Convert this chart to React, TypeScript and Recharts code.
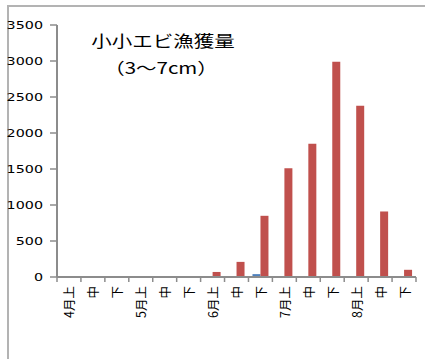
import { BarChart, Bar, XAxis, YAxis } from "recharts";

// ten-day periods, Apr - Aug
const periods = [
  "4月上", "4月中", "4月下",
  "5月上", "5月中", "5月下",
  "6月上", "6月中", "6月下",
  "7月上", "7月中", "7月下",
  "8月上", "8月中", "8月下",
];
const tickLabels = ["4月上", "中", "下", "5月上", "中", "下", "6月上", "中", "下", "7月上", "中", "下", "8月上", "中", "下"];
const blueCatch = [0, 0, 0, 0, 0, 0, 0, 0, 40, 0, 0, 0, 0, 0, 0];
const redCatch = [0, 0, 0, 0, 0, 0, 70, 210, 850, 1510, 1850, 2990, 2380, 910, 100];
const yTicks = [0, 500, 1000, 1500, 2000, 2500, 3000, 3500];

const data = periods.map((p, i) => ({ period: p, blue: blueCatch[i], red: redCatch[i] }));

const AXIS = "#8c8c8c";
const FONT = '"Noto Sans CJK JP", "DejaVu Sans", sans-serif';

const XTick = (props: any) => {
  const { x, y, payload } = props;
  const half = payload?.offset || 12;
  const i = periods.indexOf(payload.value);
  const ty = y + 9;
  return (
    <g>
      <line x1={x - half} y1={y} x2={x - half} y2={y + 5} stroke={AXIS} strokeWidth={1.5} />
      {i === periods.length - 1 && (
        <line x1={x + half} y1={y} x2={x + half} y2={y + 5} stroke={AXIS} strokeWidth={1.5} />
      )}
      <text
        x={x}
        y={ty}
        transform={`rotate(-90 ${x} ${ty})`}
        textAnchor="end"
        dominantBaseline="central"
        fontSize={12.5}
        fontFamily={FONT}
        fill="#000"
      >
        {tickLabels[i]}
      </text>
    </g>
  );
};

const YTick = (props: any) => {
  const { x, y, payload } = props;
  return (
    <g transform={`translate(${x},${y}) scale(1.3,1)`}>
      <text x={0} y={0} dy="0.36em" textAnchor="end" fontSize={11} fontFamily='"DejaVu Sans", sans-serif' fill="#000">
        {payload.value}
      </text>
    </g>
  );
};

export default function App() {
  return (
    <div style={{ position: "absolute", left: 0, top: 0, width: 425, height: 359, fontFamily: FONT, overflow: "hidden" }}>
      <div
        style={{
          position: "absolute",
          left: 7,
          top: 5,
          right: 0,
          bottom: -10,
          borderTop: "2px solid #b3b3b3",
          borderLeft: "2px solid #b3b3b3",
        }}
      />
      <BarChart
        width={425}
        height={359}
        data={data}
        margin={{ top: 25, right: 9, left: 0, bottom: 22 }}
        barGap={0}
        style={{ position: "absolute", left: 0, top: 0 }}
      >
        <XAxis
          dataKey="period"
          height={60}
          interval={0}
          tickSize={0}
          tickMargin={0}
          tickLine={false}
          axisLine={{ stroke: AXIS, strokeWidth: 2 }}
          tick={<XTick />}
        />
        <YAxis
          width={57}
          domain={[0, 3500]}
          ticks={yTicks}
          interval={0}
          tickSize={7}
          tickMargin={7}
          axisLine={{ stroke: AXIS, strokeWidth: 2 }}
          tickLine={{ stroke: AXIS, strokeWidth: 1.5 }}
          tick={<YTick />}
        />
        <Bar dataKey="blue" fill="#4f81bd" barSize={8} isAnimationActive={false} />
        <Bar dataKey="red" fill="#c0504d" barSize={8} isAnimationActive={false} />
      </BarChart>
      <div
        style={{
          position: "absolute",
          left: 0,
          width: 326,
          top: 31,
          textAlign: "center",
          fontSize: 16,
          lineHeight: "18px",
          transform: "scaleX(1.28)",
          color: "#000",
        }}
      >
        小小エビ漁獲量
      </div>
      <div
        style={{
          position: "absolute",
          left: 0,
          width: 322,
          top: 58,
          textAlign: "center",
          fontSize: 16,
          lineHeight: "18px",
          transform: "scaleX(1.28)",
          color: "#000",
        }}
      >
        （3〜7cm）
      </div>
    </div>
  );
}
